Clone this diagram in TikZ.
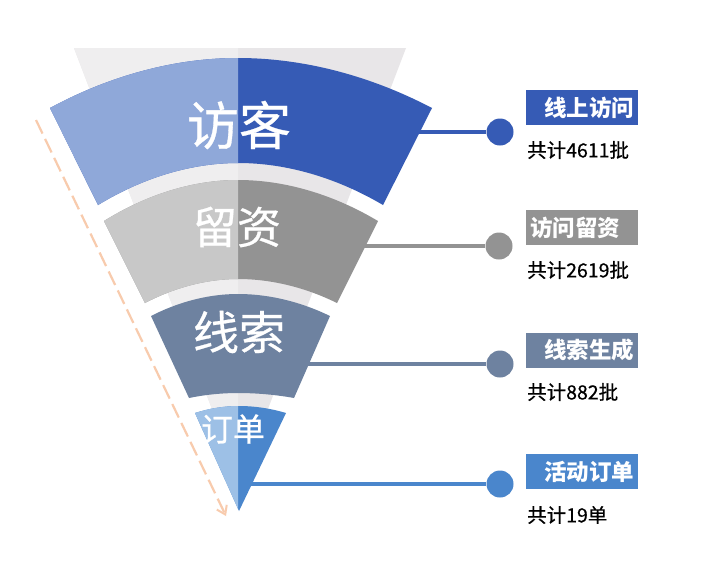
\documentclass[tikz,border=0pt]{standalone}
\usepackage{fontspec}
\newfontfamily\cjk{Noto Sans CJK SC}
\newfontfamily\cjkm{Noto Sans CJK SC}[FakeBold=0.6]
\usetikzlibrary{arrows.meta}
\definecolor{bgL}{HTML}{EFEEEF}
\definecolor{bgR}{HTML}{E8E6E8}
\definecolor{aL}{HTML}{8FA8D9}
\definecolor{aR}{HTML}{365BB5}
\definecolor{bL}{HTML}{C8C8C8}
\definecolor{bR}{HTML}{939393}
\definecolor{cc}{HTML}{6E82A0}
\definecolor{dL}{HTML}{9DC0E6}
\definecolor{dR}{HTML}{4A86CC}
\definecolor{peach}{HTML}{F8CBAD}
\newcommand\bandApath{(50,108) parabola bend (238,58) (432,108) -- (383,205) parabola bend (238,163) (98,205) -- cycle}
\newcommand\bandBpath{(104,221) parabola bend (238,180) (378,221) -- (337,303) parabola bend (238,279) (145,303) -- cycle}
\newcommand\bandCpath{(151,316) parabola bend (238,294) (330,316) -- (294,398) parabola bend (238,393) (189,398) -- cycle}
\newcommand\bandDpath{(195,413) parabola bend (239,406) (286,413) -- (239,511) -- cycle}
\begin{document}
\begin{tikzpicture}[x=1pt,y=-1pt,
  bandtext/.style={text=white, inner sep=0pt, font=\cjkm\fontsize{#1}{#1}\selectfont},
  conn/.style={line width=3.8pt},
  dot/.style={circle, minimum size=27pt, inner sep=0pt},
  lbl/.style={minimum width=112pt, minimum height=35pt, inner xsep=4pt, inner ysep=0pt, text width=104pt, text=white, font=\cjk\bfseries\fontsize{22.5}{22.5}\selectfont},
  cnt/.style={anchor=west, inner sep=0pt, text=black, font=\cjkm\fontsize{19.5}{19.5}\selectfont}
]
\useasboundingbox (0,0) rectangle (708,560);
\fill[white] (0,0) rectangle (708,560);
% background funnel
\fill[bgR] (74,48) -- (406,48) -- (240,482) -- cycle;
\fill[bgL] (74,48) -- (238,48) -- (238,477) -- cycle;
% bands
\fill[aR] \bandApath;
\fill[bR] \bandBpath;
\fill[cc] \bandCpath;
\fill[dR] \bandDpath;
\begin{scope}
  \clip (0,0) rectangle (238,560);
  \fill[aL] \bandApath;
  \fill[bL] \bandBpath;
  \fill[dL] \bandDpath;
\end{scope}
% band texts
\node[bandtext=52] (t1) at (239,125) {访客};
\node[bandtext=44] (t2) at (237,227) {留资};
\node[bandtext=46] (t3) at (239,332) {线索};
\node[bandtext=32] (t4) at (233,429) {订单};
% dashed arrow
\coordinate (a0) at (36,120);
\coordinate (a1) at (226,516);
\draw[peach, line width=2.2pt, dash pattern=on 15pt off 6pt, -{Straight Barb[length=8pt,width=11pt,line width=2pt]}] (a0) -- (a1);
% connectors
\coordinate (e1) at (414,132);
\coordinate (e2) at (362,246);
\coordinate (e3) at (305,364);
\coordinate (e4) at (249,484);
\node[dot, fill=aR] (d1) at (500,132) {};
\node[dot, fill=bR] (d2) at (499,246) {};
\node[dot, fill=cc] (d3) at (500,364) {};
\node[dot, fill=dR] (d4) at (500,484) {};
\draw[conn, aR] (e1) -- (d1);
\draw[conn, bR] (e2) -- (d2);
\draw[conn, cc] (e3) -- (d3);
\draw[conn, dR] (e4) -- (d4);
% labels
\node[lbl, fill=aR, align=right] (b1) at (582,107.5) {线上访问};
\node[lbl, fill=bR, align=left] (b2) at (582,227.5) {访问留资};
\node[lbl, fill=cc, align=right] (b3) at (582,350) {线索生成};
\node[lbl, fill=dR, align=right] (b4) at (582,471.5) {活动订单};
\node[cnt] (c1) at (527,150) {共计4611批};
\node[cnt] (c2) at (527,270) {共计2619批};
\node[cnt] (c3) at (527,392) {共计882批};
\node[cnt] (c4) at (527,515) {共计19单};
\end{tikzpicture}
\end{document}
